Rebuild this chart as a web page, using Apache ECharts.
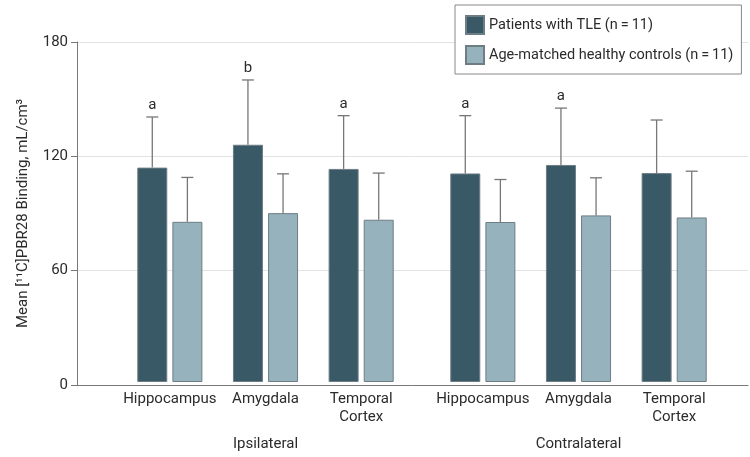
<!DOCTYPE html>
<html>
<head>
<meta charset="utf-8">
<script src="https://cdn.jsdelivr.net/npm/echarts@6/dist/echarts.min.js"></script>
<style>
html,body{margin:0;padding:0;background:#fff;}
#chart{width:750px;height:457px;}
</style>
</head>
<body>
<div id="chart"></div>
<script>
// ---- data ----
const regions = ['Hippocampus', 'Amygdala', 'Temporal\nCortex'];
const groupNames = ['Ipsilateral', 'Contralateral'];
const seriesNames = ['Patients with TLE (n\u2009=\u200911)', 'Age-matched healthy controls (n\u2009=\u200911)'];
const yTicks = [0, 60, 120, 180];

// Ipsilateral
const ipsiTLE = [113.5, 125.6, 112.8];
const ipsiTLEUpper = [140.3, 159.9, 141.0];
const ipsiCtrl = [84.8, 89.4, 85.9];
const ipsiCtrlUpper = [108.3, 110.2, 110.6];
const ipsiSig = ['a', 'b', 'a'];

// Contralateral
const contraTLE = [110.4, 114.9, 110.6];
const contraTLEUpper = [141.0, 145.0, 138.7];
const contraCtrl = [84.7, 88.2, 87.1];
const contraCtrlUpper = [107.2, 108.1, 111.6];
const contraSig = ['a', 'a', ''];

// ---- styles ----
const FONT = 'Roboto';
const TXT = '#2b2b2b';
const darkColor = '#3a5966';
const lightColor = '#95b2bd';
const borderCol = '#6e7d84';
const errCol = '#777';
const BAR_W = 30;
const BAR_GAP_PCT = 17;
const OFFSET = (BAR_W + BAR_W * BAR_GAP_PCT / 100) / 2;

const chart = echarts.init(document.getElementById('chart'));

function errSeries(idx, means, uppers, sig, side) {
  return {
    type: 'custom',
    xAxisIndex: idx, yAxisIndex: idx,
    z: 5,
    silent: true,
    data: means.map((m, i) => [i, m, uppers[i]]),
    renderItem: function (params, api) {
      const i = api.value(0);
      const p0 = api.coord([i, api.value(1)]);
      const p1 = api.coord([i, api.value(2)]);
      const cx = p0[0] + side * OFFSET;
      const children = [
        { type: 'line', shape: { x1: cx, y1: p0[1], x2: cx, y2: p1[1] }, style: { stroke: errCol, lineWidth: 1.3 } },
        { type: 'line', shape: { x1: cx - 6, y1: p1[1], x2: cx + 6, y2: p1[1] }, style: { stroke: errCol, lineWidth: 1.3 } }
      ];
      const s = sig ? sig[params.dataIndex] : '';
      if (s) {
        children.push({ type: 'text', style: { text: s, x: cx, y: p1[1] - 4, textAlign: 'center', textVerticalAlign: 'bottom', fill: TXT, font: '15px ' + FONT } });
      }
      return { type: 'group', children: children };
    }
  };
}

function barSeries(idx, name, data, color) {
  return {
    type: 'bar', name: name, xAxisIndex: idx, yAxisIndex: idx,
    data: data, barWidth: BAR_W, barGap: BAR_GAP_PCT + '%',
    itemStyle: { color: color, borderColor: borderCol, borderWidth: 1 },
    silent: true
  };
}

function catAxis(idx, gname) {
  return {
    type: 'category', gridIndex: idx, data: regions,
    axisLine: { show: false }, axisTick: { show: false },
    axisLabel: { color: TXT, fontSize: 15, fontFamily: FONT, lineHeight: 18, margin: 8, interval: 0 },
    name: gname, nameLocation: 'middle', nameGap: 55,
    nameTextStyle: { color: TXT, fontSize: 15, fontFamily: FONT }
  };
}

function hiddenY(idx) {
  return { type: 'value', gridIndex: idx, min: 0, max: 180, show: false };
}

chart.setOption({
  animation: false,
  backgroundColor: '#fff',
  grid: [
    { left: 77, right: 2, top: 42, bottom: 72 },
    { left: 122, width: 287, top: 42, bottom: 72 },
    { left: 435, width: 287, top: 42, bottom: 72 }
  ],
  legend: {
    data: seriesNames,
    orient: 'vertical',
    left: 455, top: 5,
    backgroundColor: '#fff', borderColor: '#888', borderWidth: 1,
    padding: [10, 8, 9, 10],
    itemWidth: 18, itemHeight: 18, itemGap: 10,
    icon: 'rect',
    textStyle: { color: TXT, fontSize: 14.5, fontFamily: FONT },
    selectedMode: false
  },
  xAxis: [
    { type: 'value', gridIndex: 0, min: 0, max: 1, axisLabel: { show: false }, axisTick: { show: false }, splitLine: { show: false },
      axisLine: { show: true, lineStyle: { color: '#777', width: 1 } } },
    catAxis(1, groupNames[0]),
    catAxis(2, groupNames[1])
  ],
  yAxis: [
    { type: 'value', gridIndex: 0, min: yTicks[0], max: yTicks[yTicks.length - 1], interval: 60,
      axisLine: { show: true, lineStyle: { color: '#777', width: 1 } },
      axisTick: { show: true, length: 6, lineStyle: { color: '#777' } },
      axisLabel: { color: TXT, fontSize: 15, fontFamily: FONT, margin: 9 },
      splitLine: { show: true, lineStyle: { color: '#e2e2e2', width: 1 } },
      name: 'Mean [\u00b9\u00b9C]PBR28 Binding, mL/cm\u00b3', nameLocation: 'middle', nameGap: 46,
      nameTextStyle: { color: TXT, fontSize: 15, fontFamily: FONT } },
    hiddenY(1), hiddenY(2)
  ],
  series: [
    barSeries(1, seriesNames[0], ipsiTLE, darkColor),
    barSeries(1, seriesNames[1], ipsiCtrl, lightColor),
    barSeries(2, seriesNames[0], contraTLE, darkColor),
    barSeries(2, seriesNames[1], contraCtrl, lightColor),
    errSeries(1, ipsiTLE, ipsiTLEUpper, ipsiSig, -1),
    errSeries(1, ipsiCtrl, ipsiCtrlUpper, null, 1),
    errSeries(2, contraTLE, contraTLEUpper, contraSig, -1),
    errSeries(2, contraCtrl, contraCtrlUpper, null, 1)
  ]
});
</script>
</body>
</html>
